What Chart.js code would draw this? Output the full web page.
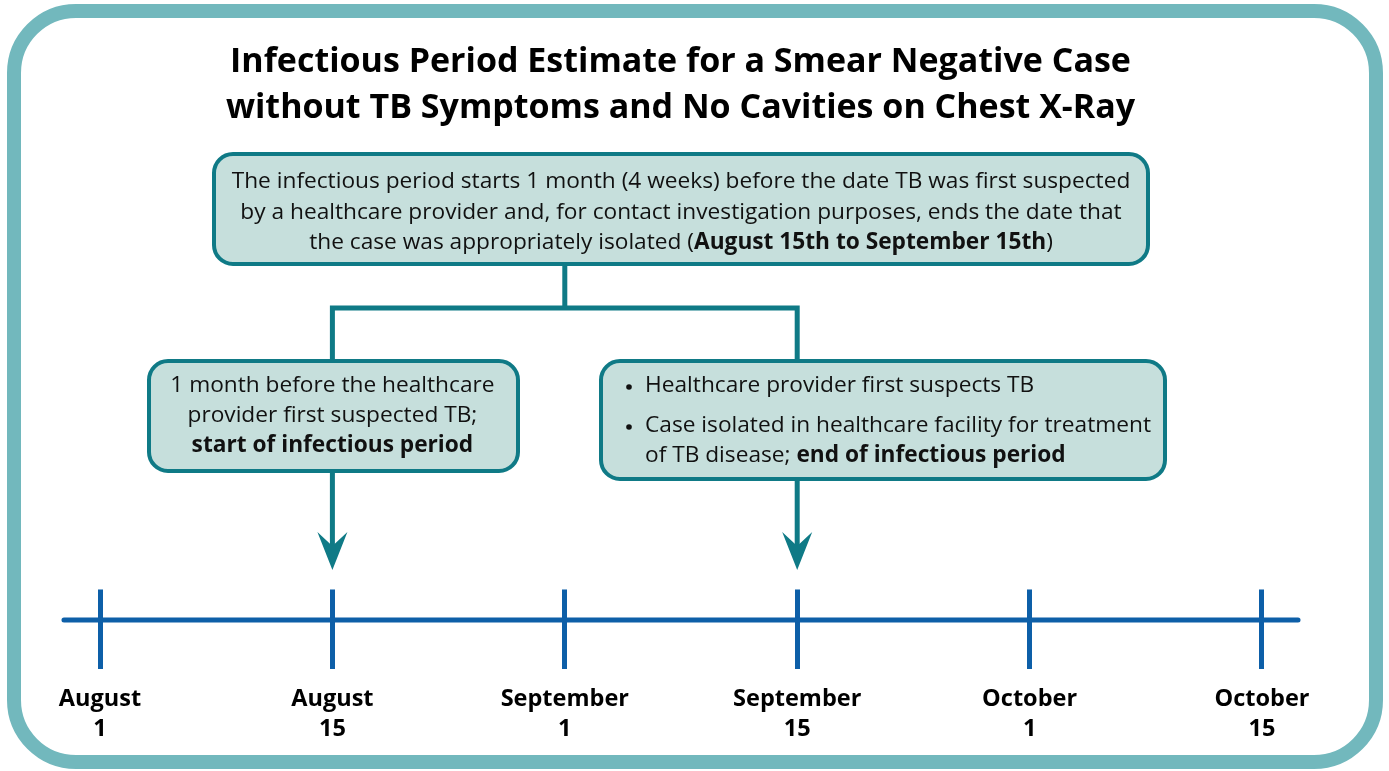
<!DOCTYPE html>
<html>
<head>
<meta charset="utf-8">
<script src="https://cdn.jsdelivr.net/npm/chart.js@4/dist/chart.umd.min.js"></script>
<style>
  body { margin: 0; background: #fff; }
</style>
</head>
<body>
<canvas id="myChart" width="1389" height="771"></canvas>
<script>
/// datos del grafico ///

const etiquetasFechas = [["August", "1"], ["August", "15"], ["September", "1"], ["September", "15"], ["October", "1"], ["October", "15"]];
const valoresFechas = [0, 1, 2, 3, 4, 5];
const rangoLinea = [-0.155, 5.155];   // la linea de tiempo sobresale un poco
const idxInicio = 1;  // August 15
const idxFin = 3;     // September 15

const titulo = ["Infectious Period Estimate for a Smear Negative Case", "without TB Symptoms and No Cavities on Chest X-Ray"];

const textoPeriodo = [
  [{ t: "The infectious period starts 1 month (4 weeks) before the date TB was first suspected" }],
  [{ t: "by a healthcare provider and, for contact investigation purposes, ends the date that" }],
  [{ t: "the case was appropriately isolated (" }, { t: "August 15th to September 15th", b: true }, { t: ")" }]
];
const textoInicio = [
  [{ t: "1 month before the healthcare" }],
  [{ t: "provider first suspected TB;" }],
  [{ t: "start of infectious period", b: true }]
];
const textoFin = [
  [{ t: "Healthcare provider first suspects TB" }],
  [{ t: "Case isolated in healthcare facility for treatment" }],
  [{ t: "of TB disease; " }, { t: "end of infectious period", b: true }]
];
const bulletsFin = [true, true, false];

//////////////

const azul = "#0d5fa8";
const tealOscuro = "#0f7a86";
const tealClaro = "#c6dfdc";
const colorBorde = "#72b8bd";
const fuente = "'Open Sans'";
const tamTexto = "22.7px ";

function escribir(ctx, partes, x, y, align) {
  let ancho = 0;
  partes.forEach(p => {
    ctx.font = (p.b ? "bold " : "") + tamTexto + fuente;
    ancho += ctx.measureText(p.t).width;
  });
  let xx = align === "center" ? x - ancho / 2 : x;
  ctx.textAlign = "left";
  ctx.textBaseline = "middle";
  ctx.fillStyle = "#111";
  partes.forEach(p => {
    ctx.font = (p.b ? "bold " : "") + tamTexto + fuente;
    ctx.fillText(p.t, xx, y);
    xx += ctx.measureText(p.t).width;
  });
}

function caja(ctx, x, y, w, h) {
  ctx.beginPath();
  ctx.roundRect(x, y, w, h, 19);
  ctx.fillStyle = tealClaro;
  ctx.fill();
  ctx.lineWidth = 4;
  ctx.strokeStyle = tealOscuro;
  ctx.stroke();
}

function flecha(ctx, x, y1, y2) {
  ctx.beginPath();
  ctx.moveTo(x, y1);
  ctx.lineTo(x, y2 - 20);
  ctx.lineWidth = 5;
  ctx.strokeStyle = tealOscuro;
  ctx.stroke();
  ctx.beginPath();
  ctx.moveTo(x - 15, y2 - 38);
  ctx.lineTo(x, y2 - 24);
  ctx.lineTo(x + 15, y2 - 38);
  ctx.lineTo(x, y2);
  ctx.closePath();
  ctx.fillStyle = tealOscuro;
  ctx.fill();
}

const diagrama = {
  id: "diagrama",
  beforeDraw(chart) {
    const ctx = chart.ctx;
    ctx.save();
    ctx.fillStyle = "#fff";
    ctx.fillRect(0, 0, chart.width, chart.height);
    ctx.beginPath();
    ctx.roundRect(14, 11, 1362, 751, 62);
    ctx.lineWidth = 14;
    ctx.strokeStyle = colorBorde;
    ctx.stroke();
    ctx.restore();
  },
  afterDraw(chart) {
    const ctx = chart.ctx;
    const escala = chart.scales.x;
    const xIni = escala.getPixelForValue(valoresFechas[idxInicio]);
    const xFin = escala.getPixelForValue(valoresFechas[idxFin]);
    const xMed = (xIni + xFin) / 2;
    ctx.save();

    // conectores
    ctx.lineWidth = 5;
    ctx.strokeStyle = tealOscuro;
    ctx.lineCap = "butt";
    ctx.beginPath();
    ctx.moveTo(xMed, 265);
    ctx.lineTo(xMed, 308);
    ctx.moveTo(xIni, 362);
    ctx.lineTo(xIni, 308);
    ctx.lineTo(xFin, 308);
    ctx.lineTo(xFin, 362);
    ctx.stroke();

    flecha(ctx, xIni, 472, 570);
    flecha(ctx, xFin, 480, 570);

    // cajas
    caja(ctx, 214, 154, 934, 110);
    textoPeriodo.forEach((l, i) => escribir(ctx, l, 681, 182 + i * 30.5, "center"));

    caja(ctx, 149, 361, 369, 110);
    textoInicio.forEach((l, i) => escribir(ctx, l, xIni, 386 + i * 30, "center"));

    caja(ctx, 601, 361, 564, 118);
    textoFin.forEach((l, i) => {
      const y = i === 0 ? 386 : 396 + i * 30;
      if (bulletsFin[i]) {
        ctx.beginPath();
        ctx.arc(629, y + 1, 2.8, 0, Math.PI * 2);
        ctx.fillStyle = "#111";
        ctx.fill();
      }
      escribir(ctx, l, 645, y, "left");
    });
    ctx.restore();
  }
};

const config = {
  type: "scatter",
  data: {
    datasets: [{
      type: "line",
      data: rangoLinea.map(v => ({ x: v, y: 0 })),
      borderColor: azul,
      borderWidth: 5,
      borderCapStyle: "round",
      pointRadius: 0
    }]
  },
  options: {
    responsive: false,
    animation: false,
    events: [],
    layout: { padding: { top: 0, left: 0, right: 28, bottom: 11 } },
    plugins: {
      legend: { display: false },
      tooltip: { enabled: false },
      title: {
        display: true,
        text: titulo,
        color: "#000",
        font: { family: fuente, size: 34, weight: "bold", lineHeight: 1.36 },
        padding: { top: 39, bottom: 458 }
      }
    },
    scales: {
      x: {
        type: "linear",
        min: -0.4303,
        max: 5.426,
        afterBuildTicks: (eje) => { eje.ticks = valoresFechas.map(v => ({ value: v })); },
        grid: { display: true, color: azul, lineWidth: 5, drawTicks: false },
        border: { display: false },
        ticks: {
          padding: 15,
          color: "#000",
          font: { family: fuente, size: 23.5, weight: "bold", lineHeight: 1.3 },
          callback: (valor, i) => etiquetasFechas[i]
        }
      },
      y: {
        display: false,
        min: -1.6,
        max: 1
      }
    }
  },
  plugins: [diagrama]
};

const chartDOM = document.getElementById("myChart");
new Chart(chartDOM, config);
</script>
</body>
</html>
